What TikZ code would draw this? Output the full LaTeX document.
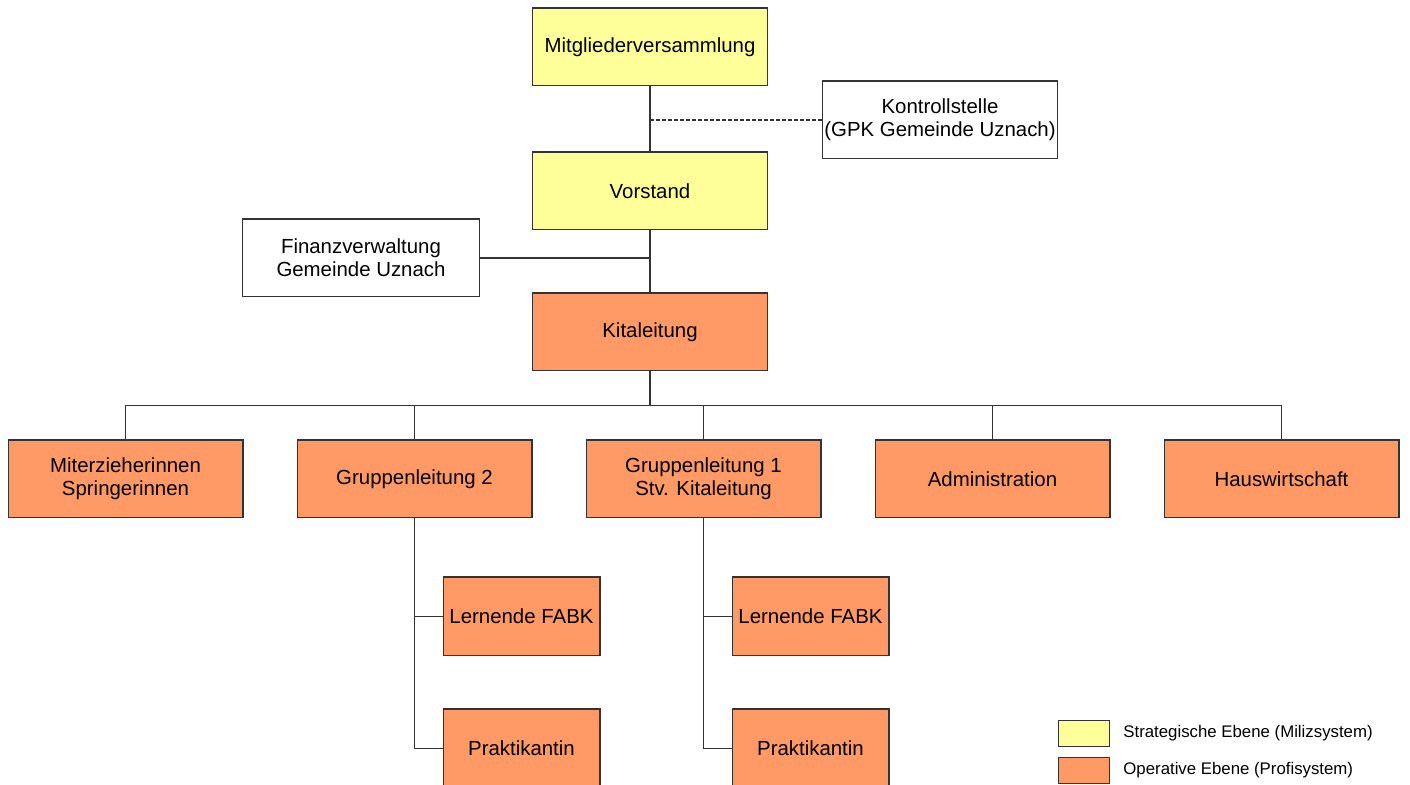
\documentclass[tikz,border=0pt]{standalone}
\usepackage{fontspec}
\setmainfont{Liberation Sans}
\usetikzlibrary{positioning}
\definecolor{strat}{HTML}{FFFF99}
\definecolor{oper}{HTML}{FF9966}
\definecolor{rahmen}{HTML}{333333}

\begin{document}
\begin{tikzpicture}[
     node distance = 32pt and 26.5pt,
             font = \fontsize{10.2}{11.5}\selectfont,
        box/.style = {rectangle, draw=rahmen, line width=0.7pt, minimum width=117.3pt, minimum height=38.8pt, align=center, inner sep=2pt},
       ybox/.style = {box, fill=strat},
       obox/.style = {box, fill=oper},
       sbox/.style = {obox, minimum width=78.3pt, minimum height=39.3pt},
       wbox/.style = {box, fill=white, inner xsep=0pt},
       lbox/.style = {rectangle, draw=rahmen, line width=0.7pt, minimum width=25.3pt, minimum height=12.8pt, inner sep=0pt},
      ltext/.style = {font=\fontsize{8.4}{10}\selectfont, inner sep=0pt},
       line/.style = {draw=rahmen, line width=0.7pt}
                        ]
\useasboundingbox (0,0) rectangle (705pt,-392.5pt);
% strategische Ebene
\node (mv)  [ybox] at (325pt,-23.5pt) {Mitgliederversammlung};
\node (vs)  [ybox,below=32.5pt of mv] {Vorstand};
\node (ks)  [wbox,below right=-3pt and 27pt of mv] {Kontrollstelle\\(GPK Gemeinde Uznach)};
\node (fv)  [wbox,below left=-6pt and 26pt of vs,minimum width=118.3pt] {Finanzverwaltung\\Gemeinde Uznach};
% operative Ebene
\node (kita) [obox,below=31pt of vs] {Kitaleitung};
\node (gl1) [obox,below=34pt of kita,xshift=26.75pt] {Gruppenleitung 1\\Stv. Kitaleitung};
\node (gl2) [obox,left=of gl1] {Gruppenleitung 2};
\node (mz)  [obox,left=of gl2] {Miterzieherinnen\\Springerinnen};
\node (adm) [obox,right=of gl1] {Administration};
\node (hw)  [obox,right=of adm] {Hauswirtschaft};
\node (lf2) [sbox,below right=29pt and 14pt of gl2.south] {Lernende FABK};
\node (pk2) [sbox,below=26pt of lf2] {Praktikantin};
\node (lf1) [sbox,below right=29pt and 14pt of gl1.south] {Lernende FABK};
\node (pk1) [sbox,below=26pt of lf1] {Praktikantin};
% Legende
\node (lg1) [lbox,fill=strat,anchor=north west] at (529pt,-360pt) {};
\node (lg2) [lbox,fill=oper,below=5pt of lg1] {};
\node (lt1) [ltext,right=6.5pt of lg1] {Strategische Ebene (Milizsystem)};
\node (lt2) [ltext,right=6.5pt of lg2] {Operative Ebene (Profisystem)};
% Linien
\draw[line] (mv) -- (vs);
\draw[line] (vs) -- (kita);
\draw[line,dash pattern=on 2pt off 1pt] (ks.west) -- (ks.west -| mv.south);
\draw[line] (fv.east) -- (fv.east -| vs.south);
\draw[line] (kita.south) -- ++(0,-17pt);
\draw[line] (mz.north) -- ++(0,17pt) -| (hw.north);
\foreach \n in {gl2,gl1,adm}
    \draw[line] (\n.north) -- ++(0,17pt);
\draw[line] (gl2.south) |- (pk2.west);
\draw[line] (lf2.west) -- (lf2.west -| gl2.south);
\draw[line] (gl1.south) |- (pk1.west);
\draw[line] (lf1.west) -- (lf1.west -| gl1.south);
\end{tikzpicture}
\end{document}
